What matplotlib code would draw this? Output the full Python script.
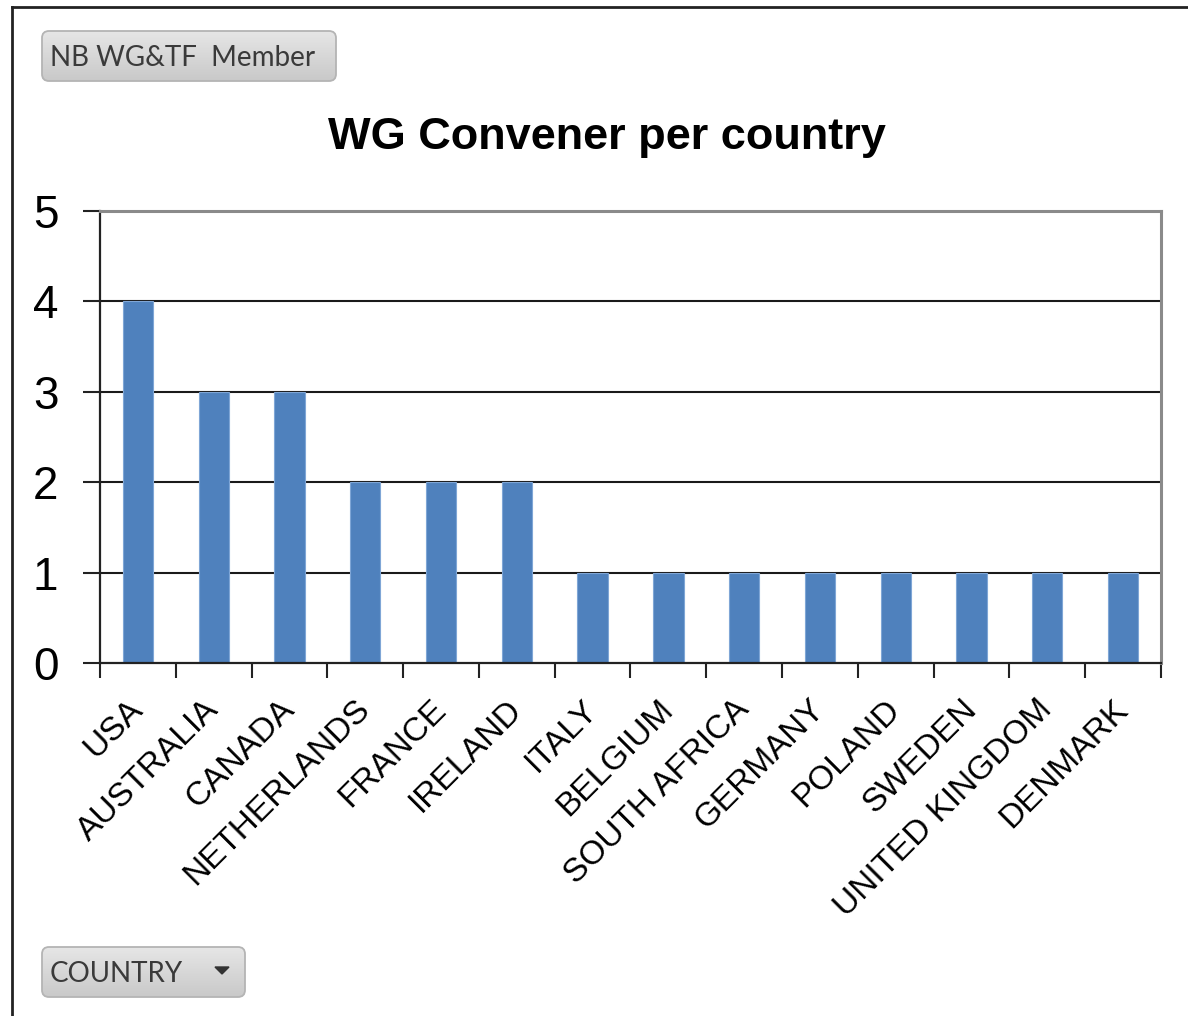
import matplotlib
matplotlib.use("Agg")
import matplotlib.pyplot as plt
import numpy as np
from matplotlib.patches import FancyBboxPatch, Polygon
from matplotlib.lines import Line2D
from matplotlib.colors import LinearSegmentedColormap

countries = ["USA", "AUSTRALIA", "CANADA", "NETHERLANDS", "FRANCE", "IRELAND",
             "ITALY", "BELGIUM", "SOUTH AFRICA", "GERMANY", "POLAND", "SWEDEN",
             "UNITED KINGDOM", "DENMARK"]
conveners = [4, 3, 3, 2, 2, 2, 1, 1, 1, 1, 1, 1, 1, 1]
y_ticks = [0, 1, 2, 3, 4, 5]

W, H = 1188, 1016
fig = plt.figure(figsize=(W / 100, H / 100), dpi=100)
fig.patch.set_facecolor("white")

def fx(px):
    return px / W

def fy(py):
    return 1 - py / H

# plot area
ax = fig.add_axes([fx(100), fy(663), fx(1161) - fx(100), fy(211) - fy(663)])
x = np.arange(len(countries))
ax.bar(x, conveners, width=0.4, color="#4F81BD", edgecolor="#7FA6D6",
       linewidth=0.8, zorder=3)
ax.set_xlim(-0.5, len(countries) - 0.5)
ax.set_ylim(0, 5)

for v in y_ticks[1:-1]:
    ax.axhline(v, color="#1a1a1a", lw=1.5, zorder=1)

ax.spines["left"].set_color("#222222")
ax.spines["left"].set_linewidth(1.6)
ax.spines["bottom"].set_color("#222222")
ax.spines["bottom"].set_linewidth(1.6)
ax.spines["bottom"].set_zorder(4)
for s in ("top", "right"):
    ax.spines[s].set_color("#8a8a8a")
    ax.spines[s].set_linewidth(2.2)

ax.set_yticks(y_ticks)
ax.set_yticklabels([str(v) for v in y_ticks], fontfamily="Liberation Sans",
                   fontsize=33)
ax.tick_params(axis="y", direction="out", length=12, width=1.5,
               color="#222222", pad=18)

ax.set_xticks(x)
ax.set_xticklabels(countries, rotation=45, ha="right", va="center",
                   rotation_mode="anchor", fontfamily="Liberation Sans",
                   fontsize=24)
ax.tick_params(axis="x", length=0, pad=30)
ax.set_xticks(np.arange(-0.5, len(countries), 1), minor=True)
ax.tick_params(axis="x", which="minor", direction="out", length=11,
               width=1.5, color="#222222")

# title
fig.text(fx(607), fy(137), "WG Convener per country",
         fontfamily="Liberation Sans", fontweight="bold", fontsize=32.5,
         ha="center", va="center")

# outer frame
fig.add_artist(Line2D([fx(12), fx(12)], [fy(7), 0], color="#222222", lw=2))
fig.add_artist(Line2D([fx(12), 1], [fy(7), fy(7)], color="#222222", lw=2))

# field buttons
btn_cmap = LinearSegmentedColormap.from_list("btn", ["#e6e6e6", "#c9c9c9"])

def button(x0, y0, x1, y1, label, arrow=False):
    bax = fig.add_axes([0, 0, 1, 1], zorder=5)
    bax.set_xlim(0, W)
    bax.set_ylim(H, 0)
    bax.axis("off")
    patch = FancyBboxPatch((x0, y0), x1 - x0, y1 - y0,
                           boxstyle="round,pad=0,rounding_size=7",
                           facecolor="none", edgecolor="#b4b4b4", lw=1.3)
    bax.add_patch(patch)
    grad = np.linspace(0, 1, 64).reshape(-1, 1)
    img = bax.imshow(grad, extent=[x0, x1, y1, y0], cmap=btn_cmap,
                     aspect="auto", origin="upper", zorder=0)
    img.set_clip_path(patch)
    bax.text(x0 + 8, (y0 + y1) / 2 + 2, label, fontfamily="Lato", fontsize=20,
             color="#3a3a3a", ha="left", va="center")
    if arrow:
        cx, cy = x1 - 23, (y0 + y1) / 2 - 2
        bax.add_patch(Polygon([[cx - 7, cy - 3], [cx + 7, cy - 3], [cx, cy + 4]],
                              closed=True, color="#333333"))

button(42, 31, 336, 81, "NB WG&TF  Member")
button(42, 947, 245, 997, "COUNTRY", arrow=True)

fig.savefig("out.png", dpi=100, facecolor="white")
